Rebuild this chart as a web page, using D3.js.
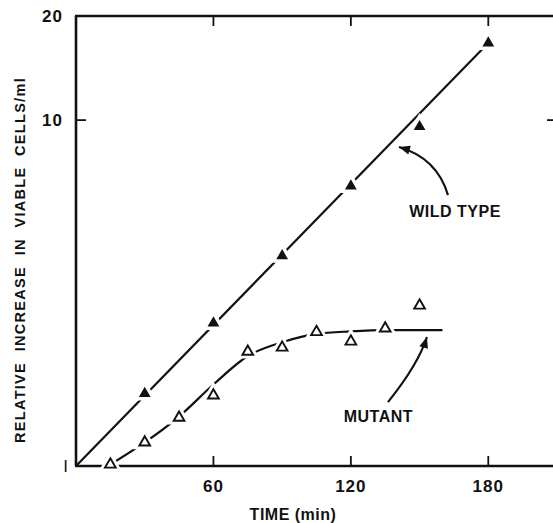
<!DOCTYPE html>
<html>
<head>
<meta charset="utf-8">
<script src="https://cdn.jsdelivr.net/npm/d3@7"></script>
<style>
  body { margin: 0; background: #fff; }
  svg text { font-family: "Liberation Sans", Arial, sans-serif; font-weight: bold; fill: #111; }
</style>
</head>
<body>
<div id="wrapper"></div>
<script>
// values (time in min, relative increase)
const wildTimes = [30, 60, 90, 120, 150, 180]
const wildValues = [1.62, 2.59, 4.05, 6.45, 9.57, 16.7]

const mutantTimes = [15, 30, 45, 60, 75, 90, 105, 120, 135, 150]
const mutantValues = [1.01, 1.17, 1.38, 1.60, 2.14, 2.20, 2.44, 2.29, 2.50, 2.91]

// hand drawn curves through the points
const wildFitTimes = [0, 180]
const wildFitValues = [1, 16.7]
const mutantFitTimes = [15, 30, 45, 60, 75, 90, 105, 120, 135, 160]
const mutantFitValues = [1.01, 1.17, 1.39, 1.72, 2.08, 2.28, 2.41, 2.45, 2.47, 2.47]

const xTicks = [60, 120, 180]
const yTicks = [1, 10, 20]
const yTickLabels = ["I", "10", "20"]

function drawChart() {
  let dimensions = {
    width: 553,
    height: 523,
    margin: { top: 16, right: -4, bottom: 57, left: 76 },
  }
  dimensions.boundedWidth = dimensions.width - dimensions.margin.left - dimensions.margin.right
  dimensions.boundedHeight = dimensions.height - dimensions.margin.top - dimensions.margin.bottom

  const wrapper = d3.select("#wrapper")
    .append("svg")
      .attr("width", dimensions.width)
      .attr("height", dimensions.height)

  const bounds = wrapper.append("g")
      .attr("transform", `translate(${dimensions.margin.left},${dimensions.margin.top})`)

  const xScale = d3.scaleLinear()
    .domain([0, 210])
    .range([0, dimensions.boundedWidth])

  const yScale = d3.scaleLog()
    .domain([1, 20])
    .range([dimensions.boundedHeight, 0])

  const toPoints = (xs, ys) => xs.map((x, i) => [x, ys[i]])

  const lineGenerator = d3.line()
    .x(d => xScale(d[0]))
    .y(d => yScale(d[1]))

  // curves
  bounds.append("path")
    .attr("d", lineGenerator(toPoints(wildFitTimes, wildFitValues)))
    .attr("fill", "none")
    .attr("stroke", "#111")
    .attr("stroke-width", 2.2)

  bounds.append("path")
    .attr("d", lineGenerator.curve(d3.curveMonotoneX)(toPoints(mutantFitTimes, mutantFitValues)))
    .attr("fill", "none")
    .attr("stroke", "#111")
    .attr("stroke-width", 2.2)

  // frame
  const frame = bounds.append("g")
    .attr("stroke", "#111")
    .attr("stroke-width", 2.6)
    .attr("fill", "none")
  frame.append("line")
    .attr("x1", 0).attr("x2", 0)
    .attr("y1", 0).attr("y2", dimensions.boundedHeight)
  frame.append("line")
    .attr("x1", -1).attr("x2", dimensions.boundedWidth)
    .attr("y1", dimensions.boundedHeight).attr("y2", dimensions.boundedHeight)
  frame.append("line")
    .attr("x1", -1).attr("x2", dimensions.boundedWidth)
    .attr("y1", 0).attr("y2", 0)
  frame.append("line")
    .attr("x1", dimensions.boundedWidth).attr("x2", dimensions.boundedWidth)
    .attr("y1", 0).attr("y2", dimensions.boundedHeight)

  // inward ticks
  const tickLen = 10
  const ticks = bounds.append("g").attr("stroke", "#111").attr("stroke-width", 1.8)
  ticks.selectAll(".xb").data(xTicks).enter().append("line")
    .attr("x1", d => xScale(d)).attr("x2", d => xScale(d))
    .attr("y1", dimensions.boundedHeight).attr("y2", dimensions.boundedHeight - tickLen)
  ticks.selectAll(".xt").data(xTicks).enter().append("line")
    .attr("x1", d => xScale(d)).attr("x2", d => xScale(d))
    .attr("y1", 0).attr("y2", tickLen)
  ticks.selectAll(".yl").data([10]).enter().append("line")
    .attr("x1", 0).attr("x2", tickLen)
    .attr("y1", d => yScale(d)).attr("y2", d => yScale(d))
  ticks.selectAll(".yr").data([10]).enter().append("line")
    .attr("x1", dimensions.boundedWidth).attr("x2", dimensions.boundedWidth - tickLen)
    .attr("y1", d => yScale(d)).attr("y2", d => yScale(d))

  // tick labels
  bounds.selectAll(".xlab").data(xTicks).enter().append("text")
    .attr("x", d => xScale(d))
    .attr("y", dimensions.boundedHeight + 26)
    .attr("text-anchor", "middle")
    .style("font-size", "17px")
    .style("letter-spacing", "1px")
    .text(d => d)

  bounds.selectAll(".ylab").data(yTicks).enter().append("text")
    .attr("x", (d, i) => i === 0 ? -7 : -13)
    .attr("y", d => yScale(d) + 6)
    .attr("text-anchor", "end")
    .style("font-size", "17px")
    .style("font-weight", (d, i) => i === 0 ? "normal" : "bold")
    .style("letter-spacing", "1px")
    .text((d, i) => yTickLabels[i])

  // markers with white halo so the curves break around them
  const triangle = d3.symbol().type(d3.symbolTriangle)

  const wildPts = toPoints(wildTimes, wildValues)
  const mutantPts = toPoints(mutantTimes, mutantValues)

  bounds.selectAll(".halo").data(wildPts.concat(mutantPts)).enter().append("path")
    .attr("d", triangle.size(60)())
    .attr("transform", d => `translate(${xScale(d[0])},${yScale(d[1])})`)
    .attr("fill", "#fff")
    .attr("stroke", "#fff")
    .attr("stroke-width", 7)

  bounds.selectAll(".wild").data(wildPts).enter().append("path")
    .attr("d", triangle.size(60)())
    .attr("transform", d => `translate(${xScale(d[0])},${yScale(d[1])})`)
    .attr("fill", "#111")

  bounds.selectAll(".mutant").data(mutantPts).enter().append("path")
    .attr("d", triangle.size(50)())
    .attr("transform", d => `translate(${xScale(d[0])},${yScale(d[1])})`)
    .attr("fill", "#fff")
    .attr("stroke", "#111")
    .attr("stroke-width", 1.9)
    .attr("stroke-linejoin", "miter")

  // annotations: [tail, control, tip] in data units
  const arrows = [
    { pts: [[162.4, 6.07], [157.6, 7.77], [141, 8.36]] },
    { pts: [[136.2, 1.53], [149.5, 1.97], [153.2, 2.36]] },
  ]
  arrows.forEach(a => {
    const [p0, p1, p2] = a.pts.map(p => [xScale(p[0]), yScale(p[1])])
    const path = d3.path()
    path.moveTo(p0[0], p0[1])
    path.quadraticCurveTo(p1[0], p1[1], p2[0], p2[1])
    bounds.append("path")
      .attr("d", path.toString())
      .attr("fill", "none")
      .attr("stroke", "#111")
      .attr("stroke-width", 2.2)
    const ang = Math.atan2(p2[1] - p1[1], p2[0] - p1[0]) * 180 / Math.PI
    bounds.append("path")
      .attr("d", "M0,0 L-11,-4.5 L-11,4.5 Z")
      .attr("transform", `translate(${p2[0]},${p2[1]}) rotate(${ang})`)
      .attr("fill", "#111")
  })

  bounds.append("text")
    .attr("x", xScale(165.5))
    .attr("y", yScale(5.25))
    .attr("text-anchor", "middle")
    .style("font-size", "16px")
    .style("letter-spacing", "0.5px")
    .text("WILD TYPE")

  bounds.append("text")
    .attr("x", xScale(132))
    .attr("y", yScale(1.34))
    .attr("text-anchor", "middle")
    .style("font-size", "16px")
    .style("letter-spacing", "0.5px")
    .text("MUTANT")

  // axis titles
  wrapper.append("text")
    .attr("x", 293)
    .attr("y", 520)
    .attr("text-anchor", "middle")
    .style("font-size", "16px")
    .style("letter-spacing", "0.5px")
    .text("TIME (min)")

  wrapper.append("text")
    .attr("transform", "translate(25,260) rotate(-90)")
    .attr("text-anchor", "middle")
    .style("font-size", "14.5px")
    .style("letter-spacing", "1.3px")
    .style("white-space", "pre")
    .text("RELATIVE  INCREASE  IN  VIABLE  CELLS/ml")
}

drawChart()
</script>
</body>
</html>
